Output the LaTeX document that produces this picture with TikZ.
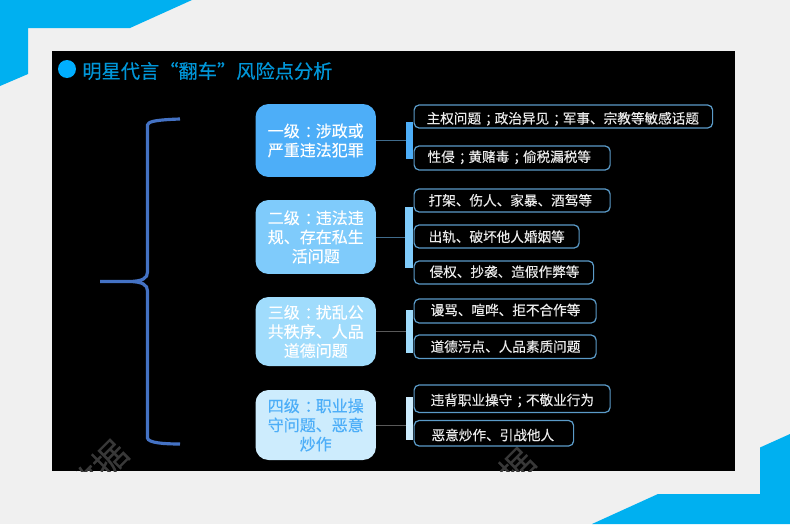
\documentclass[tikz,border=0pt]{standalone}
\usepackage{fontspec}
\setmainfont{Noto Sans CJK SC}[FakeBold=0.25]
\usetikzlibrary{calc}
\definecolor{pagegray}{HTML}{F0F0F0}
\definecolor{cornerblue}{HTML}{00B0F0}
\definecolor{titleblue}{HTML}{0096D8}
\definecolor{dotblue}{HTML}{00AEFF}
\definecolor{bracketblue}{HTML}{4472C4}
\definecolor{itemedge}{HTML}{5B9BC8}
\definecolor{levelA}{HTML}{4DAEF8}
\definecolor{levelB}{HTML}{7FCBFB}
\definecolor{levelC}{HTML}{A0DCFC}
\definecolor{levelD}{HTML}{CDECFD}
\newdimen\pxunit
\pxunit=0.02cm
\def\cnmark#1{\kern.3em#1\kern-.3em}
\def\itemtext[#1:#2:#3]#4{\makebox[#1\pxunit][l]{\hspace{#2\pxunit}\raisebox{#3\pxunit}[0pt][0pt]{#4}}}
\tikzset{
	levelbox/.style={rounded corners=0.26cm, minimum width=2.41cm, inner sep=0pt, align=center, text=white, font=\fontsize{9.1}{10.9}\selectfont, execute at begin node={\rule{0pt}{1em}}},
	itembox/.style={draw=itemedge, fill=black, line width=0.7pt, rounded corners=0.1cm, inner sep=0pt, anchor=west, text=white!92!black, font=\fontsize{7.75}{9}\selectfont},
	sidebar/.style={minimum width=0.15cm, inner sep=0pt, anchor=north west},
	linkline/.style={line width=0.4pt, color=#1},
	markword/.style={rotate=45, text=white!22!black, font=\fontsize{19}{19}\selectfont},
}
\begin{document}
\begin{tikzpicture}[x=0.02cm, y=-0.02cm]
		%%%%% PAGE %%%%%
		\useasboundingbox (0, 0) rectangle (790, 524);
		\fill[pagegray] (0, 0) rectangle (790, 524);
		\fill[cornerblue] (0, 0) -- (192, 0) -- (130, 28) -- (28, 28) -- (28, 74) -- (0, 86) -- cycle;
		\fill[cornerblue] (790, 434) -- (760, 447.5) -- (760, 494) -- (658, 494) -- (592, 524) -- (790, 524) -- cycle;
		\fill[black] (52, 51) rectangle (735, 471);

		%%%%% WATERMARK %%%%%
		\begin{scope}
			\clip (52, 51) rectangle (735, 471);
			\node[markword] (markleft) at (98, 470) {数据};
			\node[markword] (markright) at (505, 478) {数据};
		\end{scope}

		%%%%% TITLE %%%%%
		\fill[dotblue] (67, 69) circle (9);
		\node[anchor=west, inner sep=0pt, text=titleblue, font=\fontsize{10.95}{12}\selectfont] (title) at (82, 71) {明星代言“翻车”风险点分析};

		%%%%% BRACKET %%%%%
		\draw[bracketblue, line width=1.8pt] (180, 119) .. controls (165, 119.5) and (152, 120.5) .. (149, 123) -- (147.5, 125) -- (147.5, 272) .. controls (147.5, 278) and (143, 281.5) .. (128, 281.5) -- (100, 281.5) -- (128, 281.5) .. controls (143, 281.5) and (147.5, 285) .. (147.5, 291) -- (147.5, 438) .. controls (148, 443) and (165, 444) .. (180, 444);

		%%%%% LEVELS %%%%%
		\node[levelbox, fill=levelA, minimum height=1.46cm] (levelone) at (315.75, 140.5) {一级\cnmark{：}涉政或\\严重违法犯罪};
		\node[levelbox, fill=levelB, minimum height=1.48cm] (leveltwo) at (315.75, 237) {二级\cnmark{：}违法违\\规、存在私生\\活问题};
		\node[levelbox, fill=levelC, minimum height=1.38cm] (levelthree) at (315.75, 331.5) {三级\cnmark{：}扰乱公\\共秩序、人品\\道德问题};
		\node[levelbox, fill=levelD, text=levelA, minimum height=1.40cm] (levelfour) at (315.75, 425) {四级\cnmark{：}职业操\\守问题、恶意\\炒作};

		%%%%% BARS %%%%%
		\node[sidebar, fill=levelA, minimum height=0.74cm] (barone) at (405.5, 122) {};
		\node[sidebar, fill=levelB, minimum height=1.23cm, minimum width=0.17cm] (bartwo) at (404.5, 206.5) {};
		\node[sidebar, fill=levelC, minimum height=0.86cm] (barthree) at (405.5, 310) {};
		\node[sidebar, fill=levelD, minimum height=0.86cm] (barfour) at (405.5, 397) {};

		\draw[linkline=itemedge!70!black] (levelone.east) -- (levelone.east -| barone.west);
		\draw[linkline=itemedge!70!black] (leveltwo.east) -- (leveltwo.east -| bartwo.west);
		\draw[linkline=white!35!black] (levelthree.east) -- (levelthree.east -| barthree.west);
		\draw[linkline=white!35!black] (levelfour.east) -- (levelfour.east -| barfour.west);

		%%%%% ITEMS %%%%%
		\node[itembox, minimum height=0.46cm] (itema) at (413.5, 116.5) {\itemtext[298.5:12.5:-7]{主权问题\cnmark{；}政治异见\cnmark{；}军事、宗教等敏感话题}};
		\node[itembox, minimum height=0.48cm] (itemb) at (413.5, 158) {\itemtext[196:13.5:-3.9]{性侵\cnmark{；}黄赌毒\cnmark{；}偷税漏税等}};
		\node[itembox, minimum height=0.46cm] (itemc) at (413.5, 200.5) {\itemtext[196:14.5:-5]{打架、伤人、家暴、酒驾等}};
		\node[itembox, minimum height=0.46cm] (itemd) at (413.5, 236.5) {\itemtext[165:14.5:-5.4]{出轨、破坏他人婚姻等}};
		\node[itembox, minimum height=0.46cm] (iteme) at (413.5, 272.5) {\itemtext[179.5:15.5:-4.4]{侵权、抄袭、造假作弊等}};
		\node[itembox, minimum height=0.48cm] (itemf) at (413.5, 311) {\itemtext[182:16.5:-4.2]{谩骂、喧哗、拒不合作等}};
		\node[itembox, minimum height=0.47cm] (itemg) at (413.5, 346.75) {\itemtext[182:16.5:-5]{道德污点、人品素质问题}};
		\node[itembox, minimum height=0.55cm] (itemh) at (413.5, 398.75) {\itemtext[196:16.5:-6.4]{违背职业操守\cnmark{；}不敬业行为}};
		\node[itembox, minimum height=0.51cm] (itemi) at (413.5, 433.25) {\itemtext[159.5:17.5:-7]{恶意炒作、引战他人}};
		%%%%% END %%%%%
	\end{tikzpicture}
\end{document}
